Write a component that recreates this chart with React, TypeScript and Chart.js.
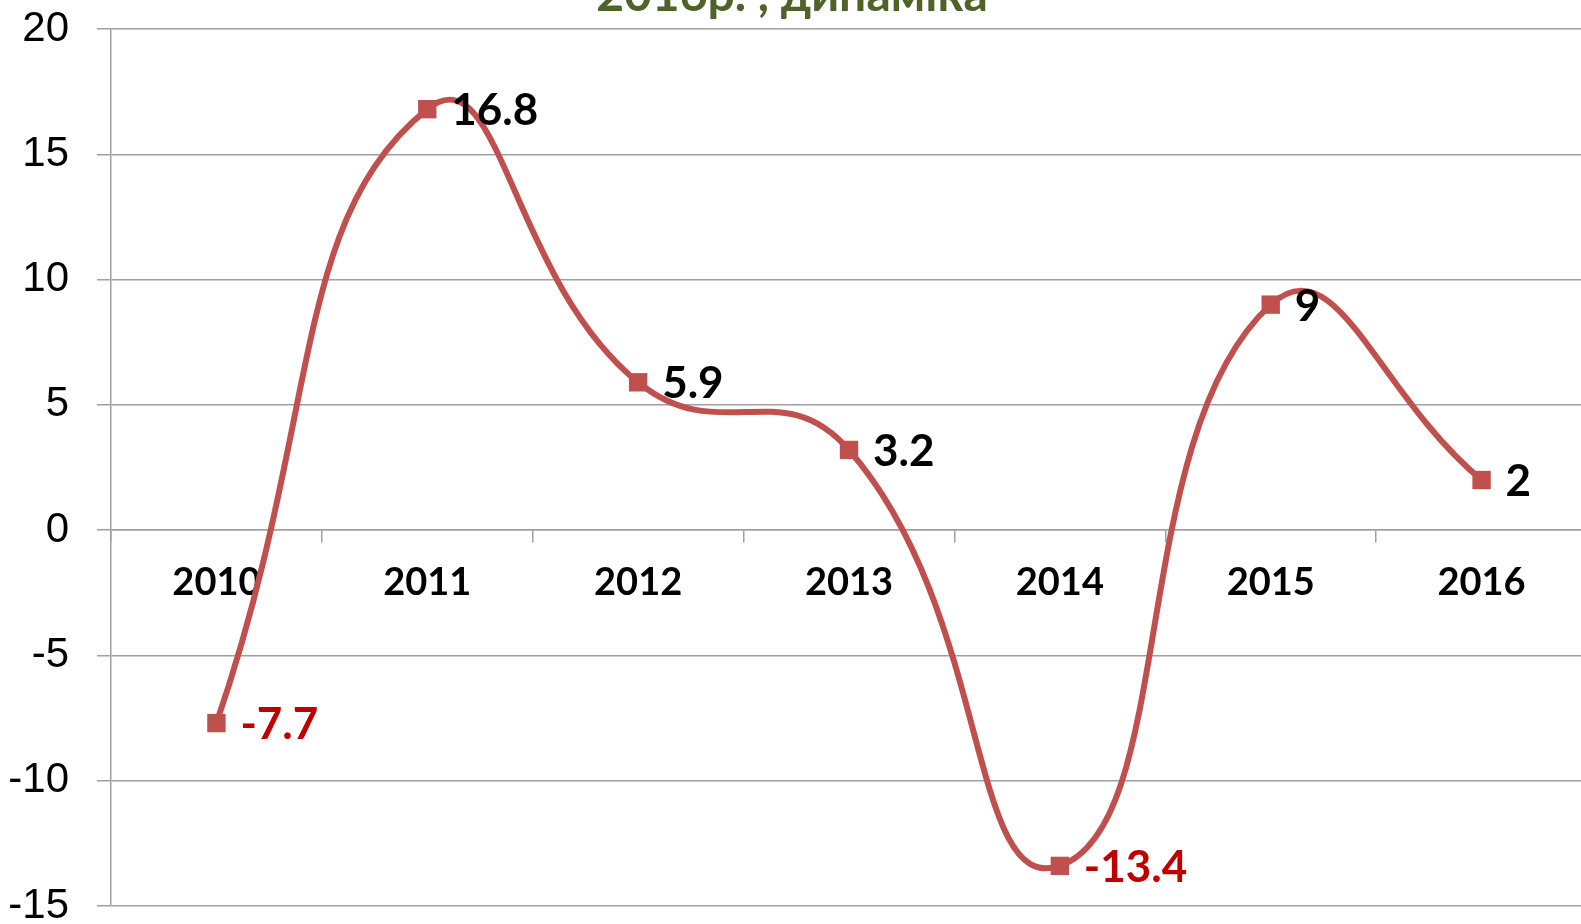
import React, { useEffect, useRef } from "react";
import { Chart, registerables } from "chart.js";

Chart.register(...registerables);

const categories: string[] = ["2010", "2011", "2012", "2013", "2014", "2015", "2016"];
const values: number[] = [-7.7, 16.8, 5.9, 3.2, -13.4, 9, 2];
const yTicks: number[] = [-15, -10, -5, 0, 5, 10, 15, 20];
const titleText = "2016р. , динаміка";

const LINE_COLOR = "#C0504D";
const GRID_COLOR = "#A0A0A0";

const labelPlugin = {
  id: "valueLabels",
  afterDatasetsDraw(chart: any) {
    const ctx = chart.ctx;
    const meta = chart.getDatasetMeta(0);
    ctx.save();
    ctx.font = "bold 44px Lato, 'DejaVu Sans', sans-serif";
    ctx.textAlign = "left";
    ctx.textBaseline = "middle";
    meta.data.forEach((pt: any, i: number) => {
      const v = values[i];
      ctx.fillStyle = v < 0 ? "#C00000" : "#000000";
      ctx.fillText(String(v), pt.x + 24, pt.y + 2);
    });
    ctx.restore();
  },
};

const titlePlugin = {
  id: "clippedTitle",
  afterDraw(chart: any) {
    const ctx = chart.ctx;
    ctx.save();
    ctx.font = "bold 48px Lato, 'DejaVu Sans', sans-serif";
    ctx.fillStyle = "#4F6228";
    ctx.textAlign = "center";
    ctx.textBaseline = "alphabetic";
    ctx.fillText(titleText, 792, 11);
    ctx.restore();
  },
};

export default function App() {
  const ref = useRef<HTMLCanvasElement | null>(null);

  useEffect(() => {
    if (!ref.current) return;
    const chart = new Chart(ref.current, {
      type: "line",
      data: {
        labels: categories,
        datasets: [
          {
            data: values,
            borderColor: LINE_COLOR,
            backgroundColor: LINE_COLOR,
            borderWidth: 6,
            tension: 0.5,
            pointStyle: "rect",
            pointRadius: 13,
            pointBackgroundColor: LINE_COLOR,
            pointBorderColor: LINE_COLOR,
            pointBorderWidth: 0,
          },
        ],
      },
      options: {
        animation: false,
        responsive: false,
        maintainAspectRatio: false,
        layout: { padding: { top: 29, bottom: 18, left: 0, right: 0 } },
        plugins: {
          legend: { display: false },
          tooltip: { enabled: false },
          title: { display: false },
        },
        scales: {
          x: {
            type: "category",
            offset: true,
            position: { y: 0 } as any,
            afterFit(scale: any) {
              scale.paddingLeft = 0;
              scale.paddingRight = 0;
            },
            grid: {
              offset: true,
              drawOnChartArea: false,
              drawTicks: true,
              tickLength: 12,
              color: GRID_COLOR,
              lineWidth: 1.5,
            },
            border: { display: true, color: GRID_COLOR, width: 1.5 },
            ticks: {
              color: "#000000",
              font: { family: "Lato, 'DejaVu Sans', sans-serif", size: 38, weight: "bold" },
              padding: 18,
              maxRotation: 0,
              autoSkip: false,
            },
          },
          y: {
            min: -15,
            max: 20,
            afterBuildTicks(scale: any) {
              scale.ticks = yTicks.map((v) => ({ value: v }));
            },
            afterFit(scale: any) {
              scale.width = 111;
              scale.paddingTop = 0;
              scale.paddingBottom = 0;
            },
            grid: {
              color: GRID_COLOR,
              lineWidth: 1.5,
              tickLength: 14,
            },
            border: { display: true, color: GRID_COLOR, width: 1.5 },
            ticks: {
              color: "#000000",
              font: { family: "'Liberation Sans', Arial, sans-serif", size: 42 },
              padding: 28,
            },
          },
        },
      },
      plugins: [labelPlugin, titlePlugin],
    });
    return () => chart.destroy();
  }, []);

  return (
    <div style={{ position: "fixed", left: 0, top: 0, width: 1581, height: 924, overflow: "hidden", background: "#fff" }}>
      <canvas ref={ref} width={1600} height={924} style={{ display: "block" }} />
    </div>
  );
}
